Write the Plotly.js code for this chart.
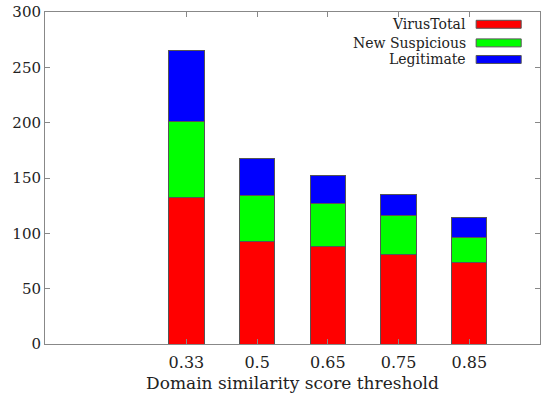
<!DOCTYPE html>
<html>
<head>
<meta charset="utf-8">
<script src="https://cdn.plot.ly/plotly-3.0.1.min.js"></script>
<style>html,body{margin:0;padding:0;background:#fff;}#chart{width:545px;height:393px;}</style>
</head>
<body>
<div id="chart"></div>
<script>
const thresholds = ["0.33", "0.5", "0.65", "0.75", "0.85"];
const seriesNames = ["VirusTotal", "New Suspicious", "Legitimate"];
const seriesColors = ["#ff0000", "#00ff00", "#0000ff"];
const virusTotal = [132, 93, 88, 81, 74];
const newSuspicious = [69, 41, 39, 35, 22];
const legitimate = [64, 34, 25, 19, 18];
const yTicks = [0, 50, 100, 150, 200, 250, 300];

const seriesValues = [virusTotal, newSuspicious, legitimate];
const fam = "DejaVu Serif";
const yFont = {family: fam, size: 15, color: "#222"};
const xFont = {family: fam, size: 16, color: "#222"};
const titleFont = {family: fam, size: 17, color: "#222"};
const legendFont = {family: fam, size: 14, color: "#222"};

const traces = seriesValues.map((vals, i) => ({
  type: "bar",
  name: seriesNames[i],
  x: thresholds,
  y: vals,
  width: 0.5,
  marker: {color: seriesColors[i], line: {color: "#555", width: 1}},
  showlegend: false
}));

const annotations = [];
const shapes = [];
const legendY = [0.963, 0.907, 0.857];
seriesNames.forEach((n, i) => {
  annotations.push({
    xref: "paper", yref: "paper", x: 0.852, y: legendY[i],
    xanchor: "right", yanchor: "middle", text: n, showarrow: false,
    font: legendFont, borderpad: 0
  });
  shapes.push({
    type: "rect", xref: "paper", yref: "paper",
    x0: 0.871, x1: 0.962, y0: legendY[i] - 0.012, y1: legendY[i] + 0.012,
    fillcolor: seriesColors[i], line: {color: "#555", width: 1}
  });
});

const layout = {
  width: 545, height: 393,
  margin: {l: 45, r: 5, t: 12, b: 49},
  paper_bgcolor: "#fff", plot_bgcolor: "#fff",
  barmode: "stack",
  font: yFont,
  xaxis: {
    type: "category",
    range: [-2, 5],
    showline: true, linecolor: "#888", linewidth: 1, mirror: "ticks",
    ticks: "inside", ticklen: 5, tickcolor: "#888",
    showgrid: false, zeroline: false,
    tickfont: xFont,
    ticklabelstandoff: 4,
    title: {text: "Domain similarity score threshold", font: titleFont, standoff: 5}
  },
  yaxis: {
    range: [0, 300],
    tickvals: yTicks,
    showline: true, linecolor: "#888", linewidth: 1, mirror: "ticks",
    ticks: "inside", ticklen: 5, tickcolor: "#888",
    showgrid: false, zeroline: false,
    tickfont: yFont
  },
  annotations: annotations,
  shapes: shapes
};

Plotly.newPlot("chart", traces, layout, {displayModeBar: false, staticPlot: true});
</script>
</body>
</html>
